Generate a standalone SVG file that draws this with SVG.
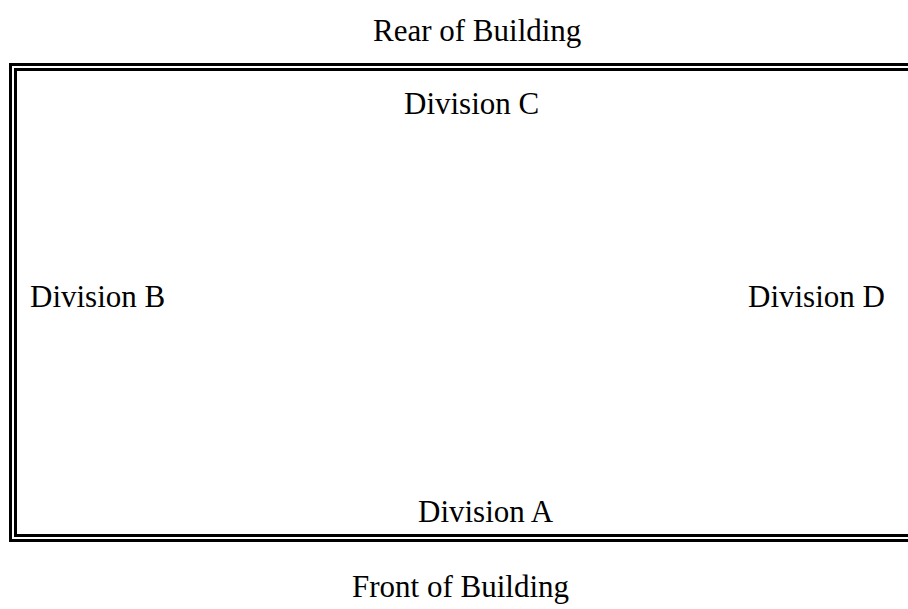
<svg xmlns="http://www.w3.org/2000/svg" width="908" height="609" viewBox="0 0 908 609">
  <style>
    .lbl { font-family: "Liberation Serif", "Times New Roman", serif; font-size: 31px; fill: #000; }
    .wall { fill: none; stroke: #000; stroke-width: 3; }
  </style>
  <rect width="908" height="609" fill="#fff"/>
  <!-- building outline: double line, right edge runs off the page -->
  <g id="building">
    <rect class="wall" x="10.5" y="64.5" width="920" height="476"/>
    <rect class="wall" x="15.5" y="69.5" width="920" height="466"/>
  </g>
  <g id="rear"><text class="lbl" x="373" y="41">Rear of Building</text></g>
  <g id="division-c"><text class="lbl" x="404" y="114">Division C</text></g>
  <g id="division-b"><text class="lbl" x="30" y="307">Division B</text></g>
  <g id="division-d"><text class="lbl" x="748" y="307">Division D</text></g>
  <g id="division-a"><text class="lbl" x="418" y="522">Division A</text></g>
  <g id="front"><text class="lbl" x="352" y="597">Front of Building</text></g>
</svg>
